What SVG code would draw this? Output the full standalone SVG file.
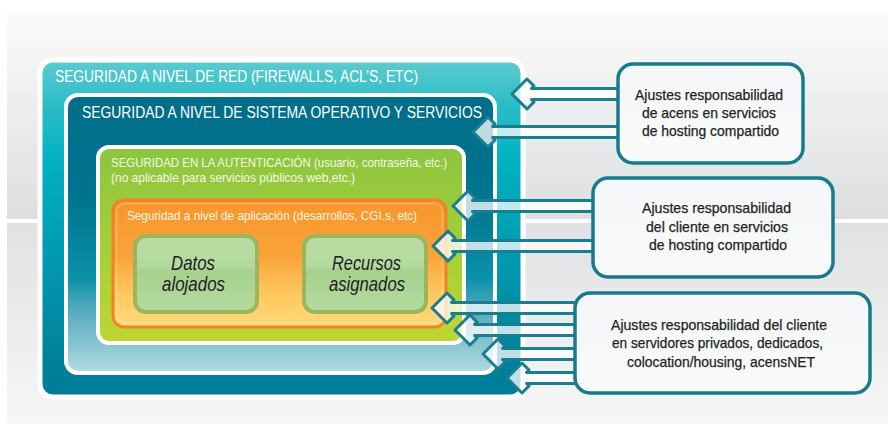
<svg xmlns="http://www.w3.org/2000/svg" width="888" height="424" viewBox="0 0 888 424">
<defs>
<linearGradient id="bgTop" x1="0" y1="0" x2="0" y2="1"><stop offset="0" stop-color="#fbfbfb"/><stop offset="1" stop-color="#dcdee0"/></linearGradient>
<linearGradient id="bgBot" x1="0" y1="0" x2="0" y2="1"><stop offset="0" stop-color="#dfe1e3"/><stop offset="1" stop-color="#f7f7f7"/></linearGradient>
<linearGradient id="gRed" x1="0" y1="0" x2="0" y2="1"><stop offset="0" stop-color="#5ecbd0"/><stop offset="0.12" stop-color="#30bec8"/><stop offset="0.3" stop-color="#00b1c2"/><stop offset="0.65" stop-color="#0095ab"/><stop offset="0.9" stop-color="#00809b"/><stop offset="1" stop-color="#007d98"/></linearGradient>
<linearGradient id="gSO" x1="0" y1="0" x2="0" y2="1"><stop offset="0" stop-color="#006d89"/><stop offset="0.38" stop-color="#00758f"/><stop offset="0.66" stop-color="#0a92a9"/><stop offset="0.76" stop-color="#4ca8bc"/><stop offset="1" stop-color="#b5dae1"/></linearGradient>
<linearGradient id="gAuth" x1="0" y1="0" x2="0" y2="1"><stop offset="0" stop-color="#8cc540"/><stop offset="1" stop-color="#bdd731"/></linearGradient>
<linearGradient id="gApp" x1="0" y1="0" x2="0" y2="1"><stop offset="0" stop-color="#f7952c"/><stop offset="0.45" stop-color="#f9a43a"/><stop offset="0.75" stop-color="#ffc95f"/><stop offset="1" stop-color="#ffda7c"/></linearGradient>
<linearGradient id="gIn" x1="0" y1="0" x2="0" y2="1"><stop offset="0" stop-color="#b9dda5"/><stop offset="0.4" stop-color="#b3da9e"/><stop offset="0.46" stop-color="#a5d18c"/><stop offset="1" stop-color="#b6dba2"/></linearGradient>
<linearGradient id="gCall" x1="0" y1="0" x2="0" y2="1"><stop offset="0" stop-color="#f4f6f7"/><stop offset="1" stop-color="#f9fafa"/></linearGradient>
<style>
.t{font-family:"Liberation Sans Narrow","Liberation Sans",Arial,sans-serif;}
.title{fill:#ffffff;font-size:16px;}
.auth{fill:#f3f8e4;font-size:13px;}
.app{fill:#fff5e0;font-size:13px;}
.inn{fill:#1f1d1e;font-size:21px;font-style:italic;}
.call{fill:#231f20;font-size:15px;stroke:#231f20;stroke-width:0.25;}
.arrow{fill:#ffffff;fill-opacity:0.75;stroke:#1a7d90;stroke-width:3;stroke-linejoin:round;}
.cbox{fill:url(#gCall);stroke:#177a8d;stroke-width:3.5;}
.ibox{fill:url(#gIn);stroke:#9bb65a;stroke-width:4;}
</style>
</defs>
<rect x="0" y="0" width="888" height="424" fill="#ffffff"/>
<rect x="7" y="12" width="881" height="207" fill="url(#bgTop)"/>
<rect x="7" y="223" width="881" height="201" fill="url(#bgBot)"/>

<g id="layer-red">
<rect x="40" y="60" width="483" height="337" rx="13" fill="url(#gRed)" stroke="#ffffff" stroke-width="5"/>
<text class="t title" x="55" y="82" textLength="363" lengthAdjust="spacingAndGlyphs">SEGURIDAD A NIVEL DE RED (FIREWALLS, ACL’S, ETC)</text>
</g>
<g id="layer-so">
<rect x="66" y="95" width="429" height="278" rx="12" fill="url(#gSO)" stroke="#ffffff" stroke-width="4"/>
<text class="t title" x="82" y="118" textLength="400" lengthAdjust="spacingAndGlyphs">SEGURIDAD A NIVEL DE SISTEMA OPERATIVO Y SERVICIOS</text>
</g>
<g id="layer-auth">
<rect x="98" y="147" width="366" height="196" rx="11" fill="url(#gAuth)" stroke="#ffffff" stroke-width="4"/>
<text class="t auth" x="111" y="167" textLength="336" lengthAdjust="spacingAndGlyphs">SEGURIDAD EN LA AUTENTICACIÓN (usuario, contraseña, etc.)</text>
<text class="t auth" x="111" y="182" textLength="244" lengthAdjust="spacingAndGlyphs">(no aplicable para servicios públicos web,etc.)</text>
</g>
<g id="layer-app">
<rect x="113" y="200" width="333" height="127" rx="11" fill="url(#gApp)" stroke="#f58220" stroke-width="3"/>
<rect x="116.5" y="203.5" width="326" height="120" rx="8" fill="none" stroke="#ffffff" stroke-opacity="0.25" stroke-width="1.5"/>
<text class="t app" x="127" y="220" textLength="290" lengthAdjust="spacingAndGlyphs">Seguridad a nivel de aplicación (desarrollos, CGI.s, etc)</text>
</g>
<g id="node-datos">
<rect x="135" y="236" width="122" height="76" rx="11" class="ibox"/>
<text class="t inn" x="171" y="270" textLength="44" lengthAdjust="spacingAndGlyphs">Datos</text>
<text class="t inn" x="162" y="291" textLength="63" lengthAdjust="spacingAndGlyphs">alojados</text>
</g>
<g id="node-recursos">
<rect x="304" y="236" width="122" height="76" rx="11" class="ibox"/>
<text class="t inn" x="332" y="270" textLength="69" lengthAdjust="spacingAndGlyphs">Recursos</text>
<text class="t inn" x="329" y="291" textLength="76" lengthAdjust="spacingAndGlyphs">asignados</text>
</g>

<g id="connectors">
<path class="arrow" transform="translate(512,94)" d="M0,0 L15,-15 L22,-8 L19.5,-5.5 H108 V5.5 H19.5 L22,8 L15,15 Z"/>
<path class="arrow" transform="translate(473,132)" d="M0,0 L15,-15 L22,-8 L19.5,-5.5 H147 V5.5 H19.5 L22,8 L15,15 Z"/>
<path class="arrow" transform="translate(453,206)" d="M0,0 L15,-15 L22,-8 L19.5,-5.5 H142 V5.5 H19.5 L22,8 L15,15 Z"/>
<path class="arrow" transform="translate(433,246)" d="M0,0 L15,-15 L22,-8 L19.5,-5.5 H162 V5.5 H19.5 L22,8 L15,15 Z"/>
<path class="arrow" transform="translate(432,308)" d="M0,0 L15,-15 L22,-8 L19.5,-5.5 H145 V5.5 H19.5 L22,8 L15,15 Z"/>
<path class="arrow" transform="translate(455,330)" d="M0,0 L15,-15 L22,-8 L19.5,-5.5 H122 V5.5 H19.5 L22,8 L15,15 Z"/>
<path class="arrow" transform="translate(483,354)" d="M0,0 L15,-15 L22,-8 L19.5,-5.5 H94 V5.5 H19.5 L22,8 L15,15 Z"/>
<path class="arrow" transform="translate(507,378)" d="M0,0 L15,-15 L22,-8 L19.5,-5.5 H70 V5.5 H19.5 L22,8 L15,15 Z"/>
</g>

<g id="callout-acens">
<rect x="618" y="64" width="185" height="99" rx="15" class="cbox"/>
<text class="t call" x="635" y="100" textLength="148" lengthAdjust="spacingAndGlyphs">Ajustes responsabilidad</text>
<text class="t call" x="642" y="118" textLength="134" lengthAdjust="spacingAndGlyphs">de acens en servicios</text>
<text class="t call" x="642" y="136" textLength="137" lengthAdjust="spacingAndGlyphs">de hosting compartido</text>
</g>
<g id="callout-cliente">
<rect x="593" y="178" width="240" height="99" rx="15" class="cbox"/>
<text class="t call" x="642" y="213" textLength="149" lengthAdjust="spacingAndGlyphs">Ajustes responsabilidad</text>
<text class="t call" x="646" y="232" textLength="142" lengthAdjust="spacingAndGlyphs">del cliente en servicios</text>
<text class="t call" x="649" y="250" textLength="138" lengthAdjust="spacingAndGlyphs">de hosting compartido</text>
</g>
<g id="callout-privados">
<rect x="575" y="293" width="295" height="100" rx="15" class="cbox"/>
<text class="t call" x="611" y="330" textLength="216" lengthAdjust="spacingAndGlyphs">Ajustes responsabilidad del cliente</text>
<text class="t call" x="612" y="348" textLength="211" lengthAdjust="spacingAndGlyphs">en servidores privados, dedicados,</text>
<text class="t call" x="627" y="367" textLength="188" lengthAdjust="spacingAndGlyphs">colocation/housing, acensNET</text>
</g>
</svg>
